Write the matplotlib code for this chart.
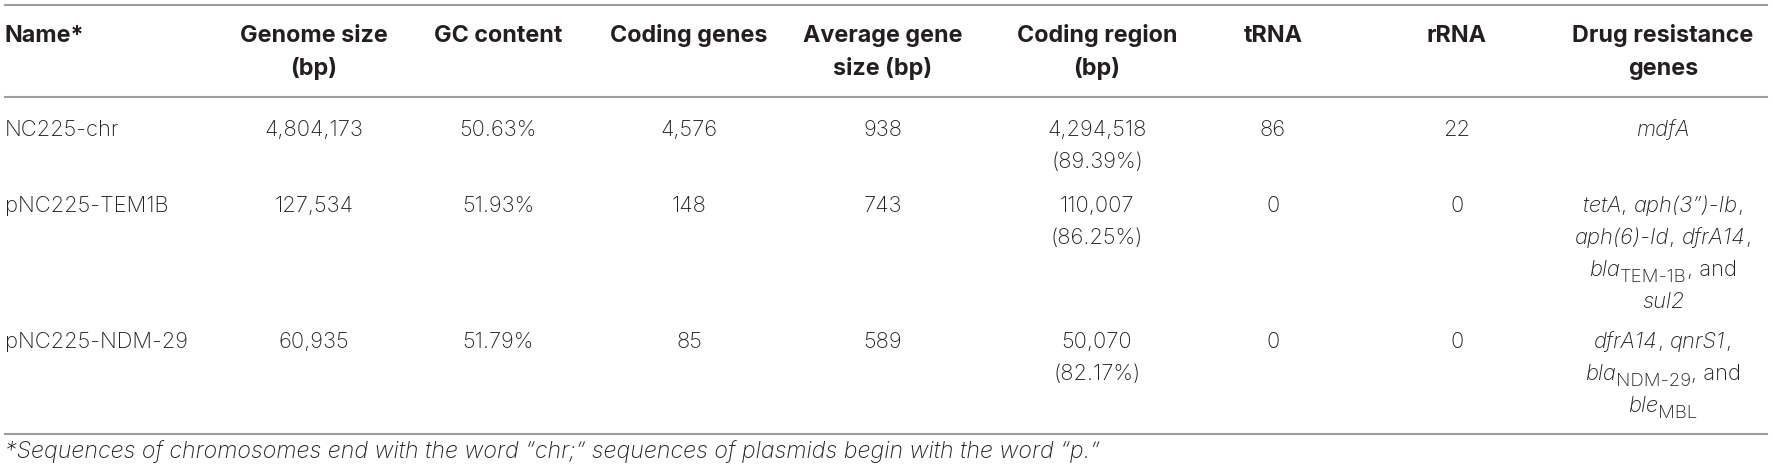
import matplotlib
matplotlib.use('Agg')
import matplotlib.pyplot as plt
from matplotlib.transforms import IdentityTransform
from matplotlib.font_manager import FontProperties
from matplotlib.lines import Line2D

# ---------------- data ----------------
headers = [["Name*"], ["Genome size", "(bp)"], ["GC content"], ["Coding genes"],
           ["Average gene", "size (bp)"], ["Coding region", "(bp)"], ["tRNA"], ["rRNA"],
           ["Drug resistance", "genes"]]
names = ["NC225-chr", "pNC225-TEM1B", "pNC225-NDM-29"]
genome_size = [4804173, 127534, 60935]
gc_content = [50.63, 51.93, 51.79]
coding_genes = [4576, 148, 85]
avg_gene_size = [938, 743, 589]
coding_region = [4294518, 110007, 50070]
coding_pct = [89.39, 86.25, 82.17]
trna = [86, 0, 0]
rrna = [22, 0, 0]
# drug resistance genes: lines of (text, style) segments; i=italic, n=normal, sub=subscript
drug_genes = [
    [[("mdfA", "i")]],
    [[("tetA", "i"), (", ", "n"), ("aph(3\u201d)-Ib", "i"), (",", "n")],
     [("aph(6)-Id", "i"), (", ", "n"), ("dfrA14", "i"), (",", "n")],
     [("bla", "i"), ("TEM-1B", "sub"), (", and", "n")],
     [("sul2", "i")]],
    [[("dfrA14", "i"), (", ", "n"), ("qnrS1", "i"), (",", "n")],
     [("bla", "i"), ("NDM-29", "sub"), (", and", "n")],
     [("ble", "i"), ("MBL", "sub")]],
]
footnote = "*Sequences of chromosomes end with the word \u201cchr;\u201d sequences of plasmids begin with the word \u201cp.\u201d"

# ---------------- layout ----------------
W, H = 1772, 475
fig = plt.figure(figsize=(W / 100, H / 100), dpi=100)
fig.patch.set_facecolor('white')
renderer = fig.canvas.get_renderer()

FS = 15.8
FSB = 16.8
FSF = 16.7
fam = ['Inter', 'DejaVu Sans']
TXT = '#231f20'
fp_n = FontProperties(family=fam, weight='light', size=FS)
fp_i = FontProperties(family=fam, weight='light', style='italic', size=FS)
fp_b = FontProperties(family=fam, weight='bold', size=FSB)
fp_s = FontProperties(family=fam, weight='light', size=FS * 0.85)
fp_f = FontProperties(family=fam, weight='light', style='italic', size=FSF)
styles = {"n": fp_n, "i": fp_i, "sub": fp_s}


def cap(fs):
    return 0.727 * fs * 100 / 72.0


LINE_H = 32

col_x = [5, 314, 498, 689, 883, 1097, 1273, 1457, 1663]
y_head = 34
y_rows = [128, 204, 340]


def tw(s, fp):
    a, _, _ = renderer.get_text_width_height_descent('|' + s + '|', fp, ismath=False)
    b, _, _ = renderer.get_text_width_height_descent('||', fp, ismath=False)
    return a - b


def put(x, yc, s, fp, ha='center'):
    fig.text(x, H - yc - cap(fp.get_size_in_points()) / 2, s, fontproperties=fp,
             color=TXT, ha=ha, va='baseline', transform=IdentityTransform())


def put_rich(xc, yc, segs):
    widths = [tw(s, styles[st]) for s, st in segs]
    x = xc - sum(widths) / 2
    for (s, st), w in zip(segs, widths):
        yb = H - yc - cap(FS) / 2
        if st == "sub":
            yb -= 6
        fig.text(x, yb, s, fontproperties=styles[st], color=TXT, ha='left',
                 va='baseline', transform=IdentityTransform())
        x += w


def hline(y):
    fig.add_artist(Line2D([5, 1767], [H - y, H - y], color='#9d9d9d', lw=1.5,
                          transform=IdentityTransform()))


hline(4.5)
hline(97)
hline(434)

# header
for j, lines in enumerate(headers):
    for k, s in enumerate(lines):
        if j == 0:
            put(col_x[0], y_head + k * 33, s, fp_b, ha='left')
        else:
            put(col_x[j], y_head + k * 33, s, fp_b)

# body
for i in range(len(names)):
    y = y_rows[i]
    put(col_x[0], y, names[i], fp_n, ha='left')
    put(col_x[1], y, f"{genome_size[i]:,}", fp_n)
    put(col_x[2], y, f"{gc_content[i]:.2f}%", fp_n)
    put(col_x[3], y, f"{coding_genes[i]:,}", fp_n)
    put(col_x[4], y, f"{avg_gene_size[i]:,}", fp_n)
    put(col_x[5], y, f"{coding_region[i]:,}", fp_n)
    put(col_x[5], y + LINE_H, f"({coding_pct[i]:.2f}%)", fp_n)
    put(col_x[6], y, f"{trna[i]}", fp_n)
    put(col_x[7], y, f"{rrna[i]}", fp_n)
    for k, segs in enumerate(drug_genes[i]):
        put_rich(col_x[8], y + k * LINE_H, segs)

put(col_x[0], 450, footnote, fp_f, ha='left')

fig.savefig('out.png', dpi=100, facecolor='white')
